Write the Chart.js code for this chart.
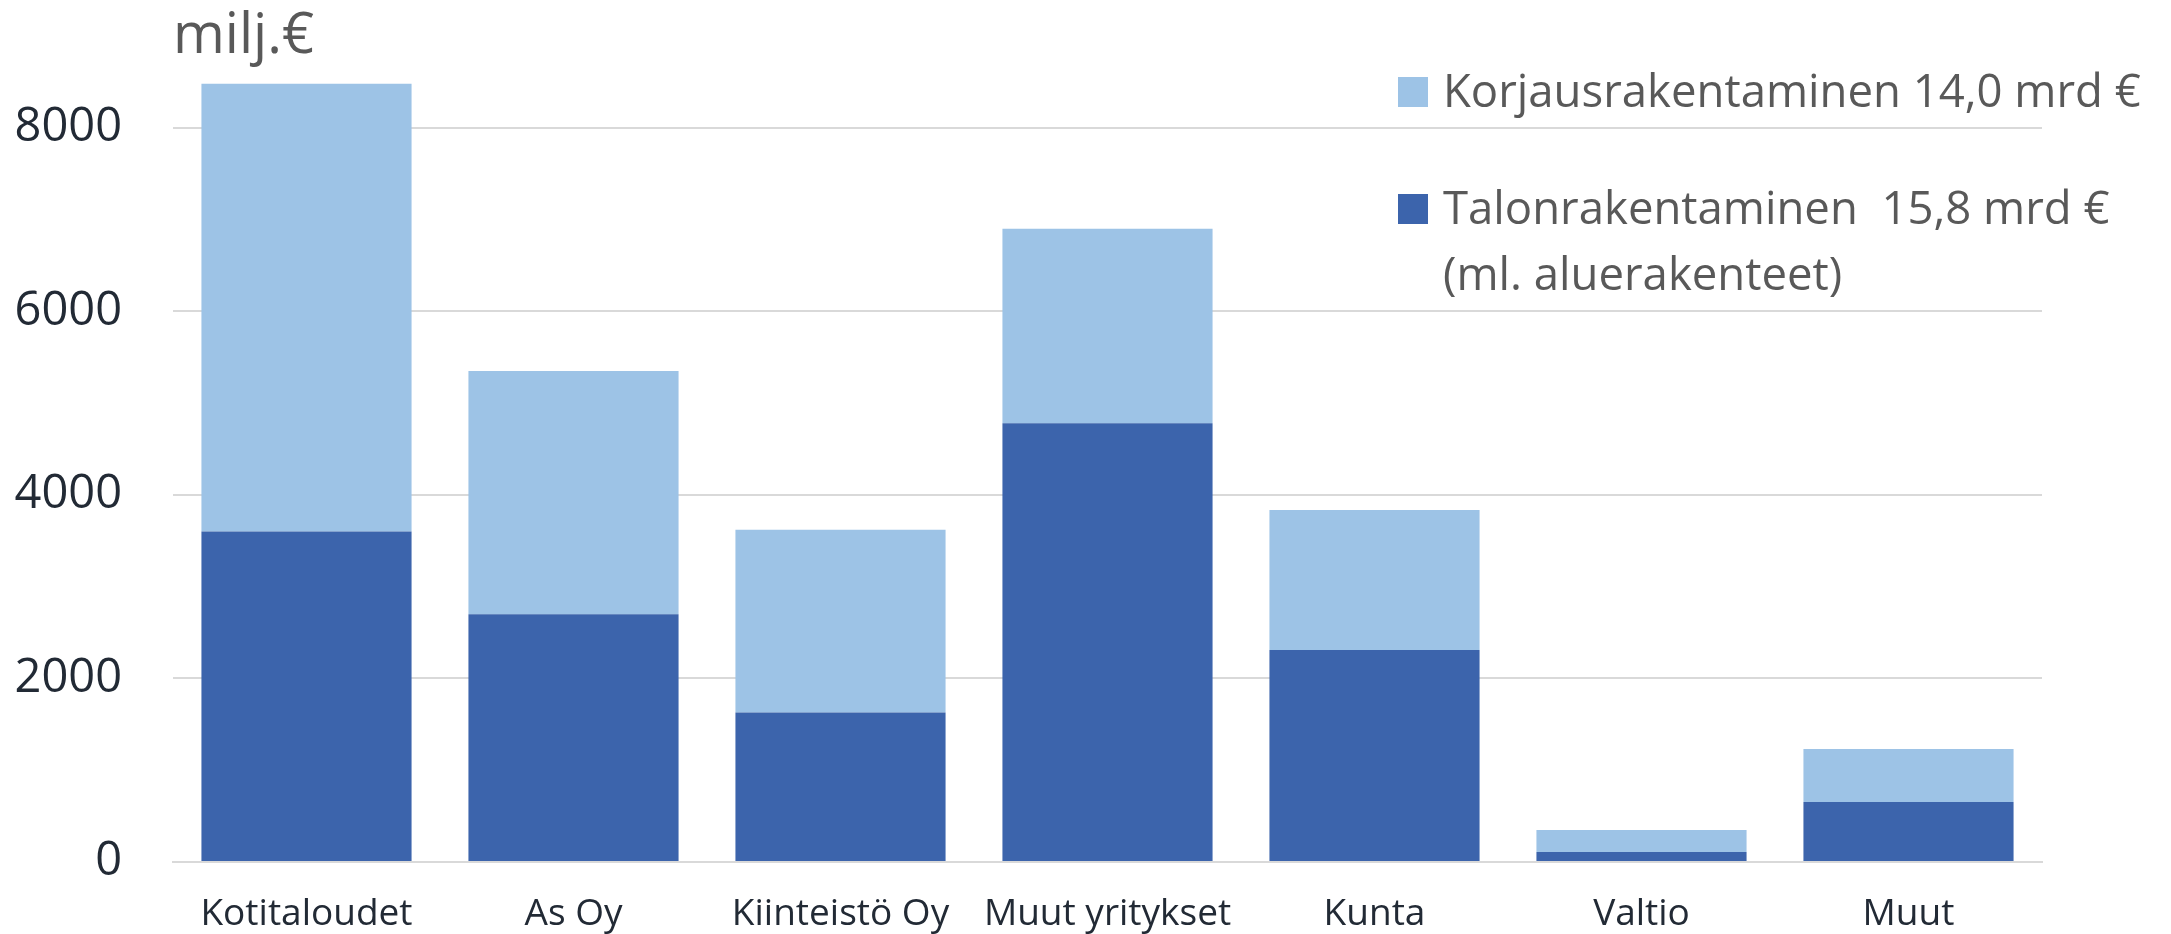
<!DOCTYPE html>
<html>
<head>
<meta charset="utf-8">
<script src="https://cdn.jsdelivr.net/npm/chart.js@4/dist/chart.umd.min.js"></script>
<style>
  html, body { margin: 0; padding: 0; background: #ffffff; }
  #wrap { width: 2171px; height: 934px; }
</style>
</head>
<body>
<div id="wrap"><canvas id="chart" width="2171" height="934"></canvas></div>
<script>
const categories = ['Kotitaloudet', 'As Oy', 'Kiinteistö Oy', 'Muut yritykset', 'Kunta', 'Valtio', 'Muut']
// milj. euroa, alin osa = talonrakentaminen, päällä korjausrakentaminen
const talonrakentaminen = [3600, 2700, 1630, 4780, 2310, 110, 655]
const korjausrakentaminen = [4880, 2650, 1990, 2120, 1525, 240, 575]
const yTicks = [0, 2000, 4000, 6000, 8000]
const yMax = 9000
const unitLabel = 'milj.€'
const legendKorjaus = ['Korjausrakentaminen 14,0 mrd €']
const legendTalon = ['Talonrakentaminen  15,8 mrd €', '(ml. aluerakenteet)']

const darkBlue = '#3c64ac'
const lightBlue = '#9dc3e6'
const gridColor = '#d9d9d9'
const tickColor = '#222a35'
const textGray = '#595959'
const fontFamily = "'Open Sans', sans-serif"

// "milj.€" ylös ja legenda piirtoalueen päälle
const overlay = {
    id: 'overlay',
    afterDraw(chart) {
        const { ctx, chartArea } = chart
        ctx.save()
        ctx.fillStyle = textGray
        ctx.textBaseline = 'alphabetic'
        ctx.textAlign = 'left'
        ctx.font = `56px ${fontFamily}`
        ctx.fillText(unitLabel, chartArea.left, 53)

        const items = [
            { lines: legendKorjaus, color: lightBlue, baseline: 107 },
            { lines: legendTalon, color: darkBlue, baseline: 224 },
        ]
        const boxX = chartArea.right - 644
        ctx.font = `45.5px ${fontFamily}`
        items.forEach(item => {
            ctx.fillStyle = item.color
            ctx.fillRect(boxX, item.baseline - 30, 30, 30)
            ctx.fillStyle = textGray
            item.lines.forEach((line, i) => {
                ctx.fillText(line, boxX + 45, item.baseline + i * 66)
            })
        })
        ctx.restore()
    }
}

new Chart(document.getElementById('chart'), {
    type: 'bar',
    data: {
        labels: categories,
        datasets: [
            {
                label: legendTalon.join(' '),
                data: talonrakentaminen,
                backgroundColor: darkBlue,
                borderWidth: 0,
                barPercentage: 0.787,
                categoryPercentage: 1,
            },
            {
                label: legendKorjaus.join(' '),
                data: korjausrakentaminen,
                backgroundColor: lightBlue,
                borderWidth: 0,
                barPercentage: 0.787,
                categoryPercentage: 1,
            },
        ]
    },
    options: {
        responsive: false,
        animation: false,
        layout: {
            padding: { top: 36, right: 129, left: 0, bottom: 0 }
        },
        plugins: {
            legend: { display: false },
            tooltip: { enabled: false },
        },
        scales: {
            x: {
                stacked: true,
                grid: { display: false },
                border: { color: gridColor, width: 2 },
                ticks: {
                    color: tickColor,
                    padding: 22,
                    font: { family: fontFamily, size: 37 },
                },
                afterFit(scale) {
                    scale.height = 72
                    scale.paddingLeft = 0
                    scale.paddingRight = 0
                },
            },
            y: {
                stacked: true,
                min: 0,
                max: yMax,
                border: { display: false },
                grid: { color: gridColor, lineWidth: 2, drawTicks: false },
                afterBuildTicks(scale) {
                    scale.ticks = yTicks.map(value => ({ value }))
                },
                afterFit(scale) {
                    scale.width = 173
                    scale.paddingTop = 0
                    scale.paddingBottom = 0
                },
                ticks: {
                    color: tickColor,
                    padding: 51,
                    font: { family: fontFamily, size: 47 },
                    callback: value => String(value),
                },
            },
        },
    },
    plugins: [overlay],
})
</script>
</body>
</html>
